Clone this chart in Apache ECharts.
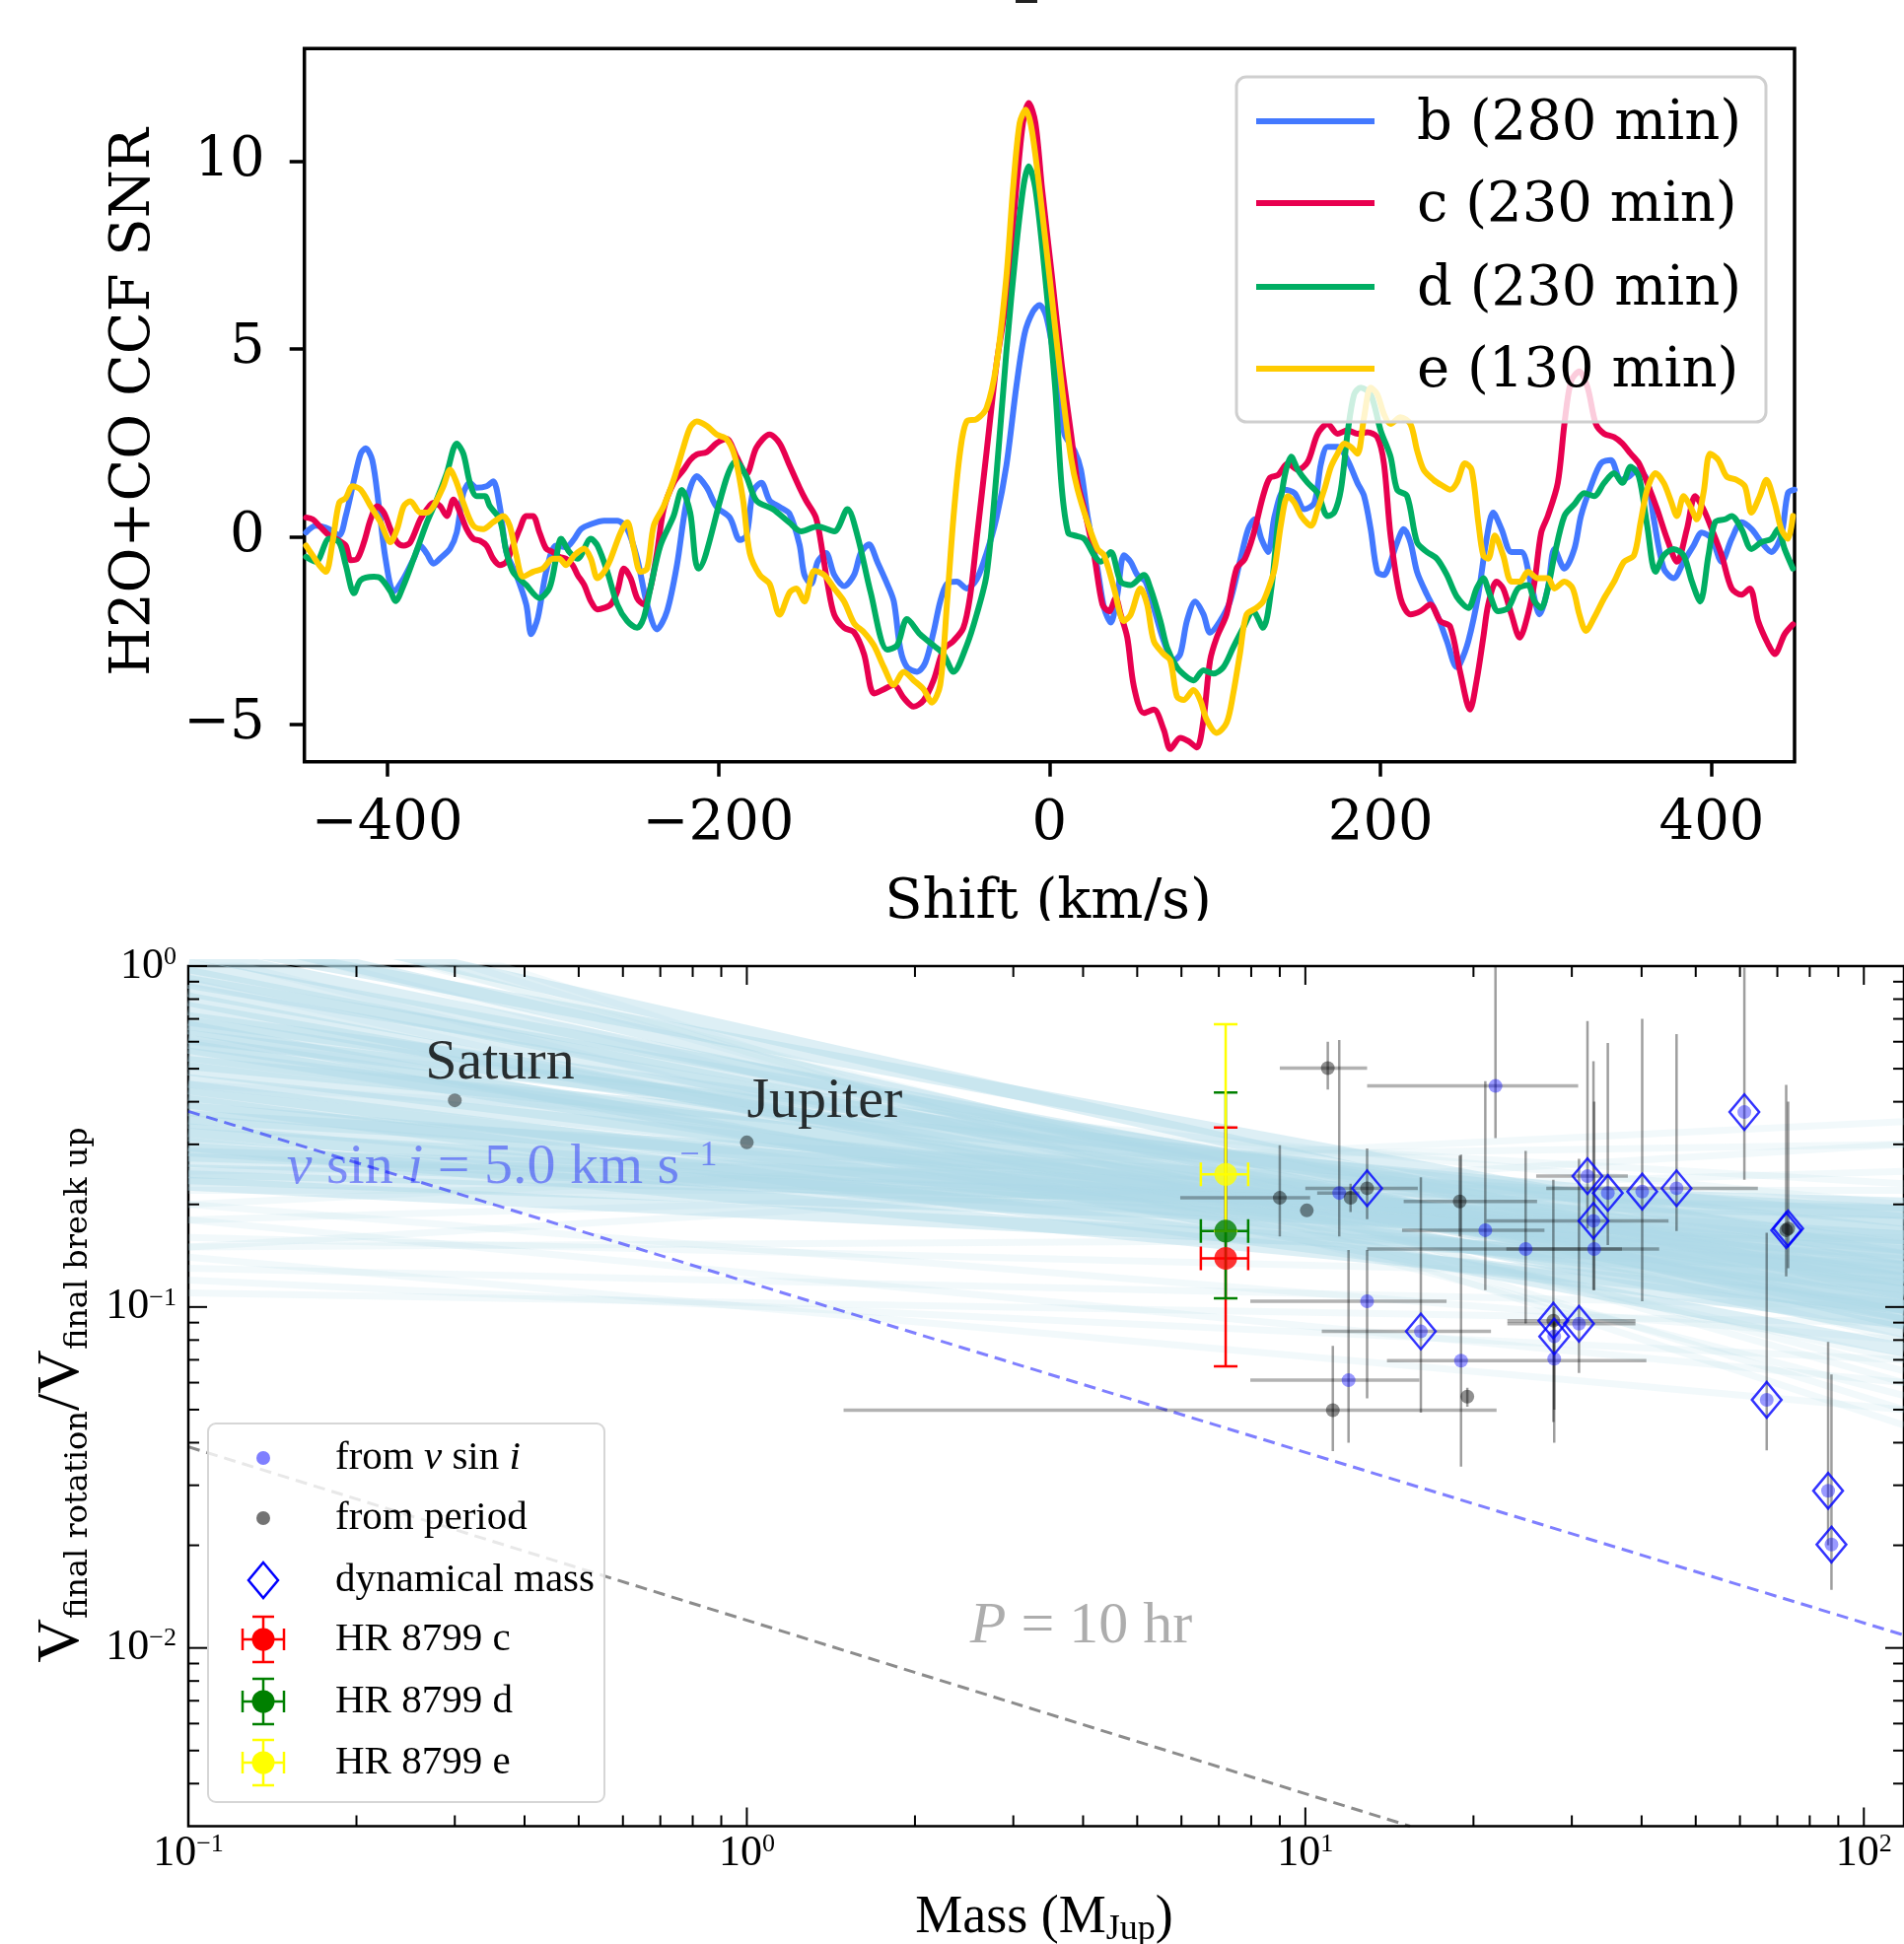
<!DOCTYPE html>
<html>
<head>
<meta charset="utf-8">
<script src="https://cdn.jsdelivr.net/npm/echarts@6/dist/echarts.min.js"></script>
<style>
html, body { margin: 0; padding: 0; background: #fff; }
#chart { width: 1931px; height: 1972px; }
</style>
</head>
<body>
<div id="chart"></div>
<script>
// ---------------- Upper panel: H2O+CO cross-correlation SNR vs. velocity shift ----------------
const ccfLabels = ['b (280 min)', 'c (230 min)', 'd (230 min)', 'e (130 min)'];
const shiftTicks = [-400, -200, 0, 200, 400];
const snrTicks = [-5, 0, 5, 10];

const ccfB = [[-449,0.11],[-443,0.29],[-435,0.2],[-429,0.03],[-425,0.55],[-420,1.51],[-416,2.21],[-413,2.35],[-409,2.04],[-405,0.81],[-401,-0.59],[-396,-1.46],[-390,-1.11],[-384,-0.59],[-380,-0.24],[-376,-0.46],[-372,-0.72],[-367,-0.54],[-362,-0.32],[-358,0.11],[-354,1.16],[-350,1.43],[-346,1.3],[-340,1.34],[-336,1.47],[-332,0.81],[-328,-0.41],[-322,-1.02],[-316,-1.81],[-313,-2.6],[-309,-2.16],[-304,-0.94],[-298,-0.24],[-292,-0.28],[-287,-0.06],[-283,0.2],[-277,0.33],[-269,0.42],[-261,0.42],[-255,0.2],[-249,-0.59],[-243,-1.81],[-237,-2.47],[-231,-1.99],[-225,-0.76],[-219,0.96],[-213,1.61],[-207,1.31],[-201,0.79],[-193,0.5],[-187,-0.09],[-183,0.03],[-179,1.2],[-174,1.43],[-169,0.96],[-163,0.79],[-157,0.61],[-151,-0.21],[-148,-1.02],[-144,-1.26],[-140,-0.67],[-135,-0.44],[-130,-1.02],[-124,-1.32],[-118,-1.02],[-114,-0.44],[-109,-0.21],[-104,-0.67],[-98,-1.26],[-94,-1.73],[-90,-3.01],[-86,-3.48],[-80,-3.6],[-75,-3.36],[-70,-2.54],[-66,-1.73],[-62,-1.26],[-56,-1.2],[-50,-1.38],[-44,-1.14],[-38,-0.44],[-32,0.5],[-26,1.9],[-20,4.0],[-15,5.41],[-10,5.99],[-6,6.17],[-2,5.88],[3,4.71],[9,2.74],[15,2.3],[19,1.78],[23,0.55],[29,-0.85],[33,-1.9],[37,-2.29],[41,-1.55],[45,-0.5],[49,-0.67],[53,-1.02],[58,-1.2],[63,-1.9],[69,-2.78],[75,-3.3],[79,-3.13],[83,-2.25],[88,-1.73],[93,-2.07],[97,-2.56],[103,-2.25],[109,-1.73],[115,-0.67],[120,0.2],[124,0.46],[128,-0.06],[132,-0.41],[136,0.55],[142,1.25],[148,1.16],[154,0.73],[160,0.9],[164,1.95],[168,2.39],[174,2.39],[180,2.04],[186,1.43],[190,1.08],[194,0.2],[198,-0.94],[202,-1.02],[206,-0.67],[210,-0.15],[214,0.2],[218,-0.15],[222,-0.94],[228,-1.55],[234,-2.07],[240,-2.78],[246,-3.48],[248,-3.39],[253,-2.78],[259,-1.55],[264,-0.06],[268,0.64],[273,0.2],[279,-0.41],[285,-0.41],[291,-1.29],[296,-2.07],[301,-1.38],[305,-0.33],[311,-0.85],[317,-0.33],[321,0.55],[327,1.34],[333,1.95],[339,2.04],[345,1.51],[350,1.6],[355,1.78],[361,1.51],[365,0.46],[371,-0.85],[377,-1.11],[383,-0.67],[389,-0.24],[394,0.11],[400,-0.06],[406,-0.67],[412,-0.06],[418,0.38],[424,0.2],[430,-0.15],[436,-0.41],[442,0.03],[446,1.16],[450,1.25]];

const ccfC = [[-449,0.51],[-445,0.46],[-441,0.29],[-435,0.03],[-429,-0.11],[-425,-0.24],[-422,-0.63],[-418,-0.59],[-414,-0.15],[-410,0.46],[-406,0.81],[-402,0.64],[-398,0.2],[-394,-0.15],[-390,-0.24],[-386,-0.15],[-380,0.46],[-376,0.73],[-372,0.9],[-368,0.81],[-364,0.55],[-360,0.99],[-356,0.64],[-352,0.2],[-348,-0.06],[-344,-0.11],[-340,-0.24],[-336,-0.59],[-332,-0.76],[-328,-0.67],[-324,-0.24],[-320,0.2],[-316,0.55],[-312,0.55],[-308,0.11],[-304,-0.32],[-300,-0.41],[-296,-0.54],[-292,-0.59],[-288,-0.76],[-285,-1.02],[-281,-1.29],[-277,-1.72],[-273,-1.94],[-269,-1.9],[-265,-1.81],[-261,-1.46],[-257,-0.85],[-253,-1.11],[-249,-1.64],[-245,-1.81],[-241,-1.37],[-237,-0.41],[-233,0.73],[-227,1.43],[-221,1.78],[-217,2.04],[-213,2.19],[-207,2.25],[-201,2.49],[-195,2.6],[-189,2.13],[-183,1.67],[-177,2.37],[-169,2.72],[-163,2.49],[-157,1.9],[-151,1.31],[-147,0.96],[-141,0.5],[-137,-0.44],[-134,-1.26],[-130,-2.08],[-124,-2.43],[-118,-2.55],[-112,-3.13],[-106,-4.18],[-100,-4.07],[-94,-3.95],[-88,-4.3],[-82,-4.53],[-76,-4.36],[-70,-3.83],[-64,-3.01],[-58,-2.78],[-52,-2.43],[-48,-1.61],[-44,-0.09],[-38,2.25],[-32,4.59],[-26,6.34],[-20,9.27],[-16,11.02],[-12.5,11.55],[-8.5,11.02],[-4.5,9.27],[1.5,6.93],[7.4,4.59],[13,2.74],[17,1.43],[21,0.73],[27,-0.5],[32,-1.81],[36,-1.99],[40,-1.64],[43,-2.07],[47,-2.69],[51,-4.0],[57,-4.7],[63,-4.61],[69,-5.14],[73,-5.66],[79,-5.36],[84,-5.45],[89,-5.62],[93,-4.88],[97,-3.3],[101,-2.69],[107,-2.07],[113,-0.85],[118,-0.59],[123,0.03],[129,1.08],[133,1.56],[138,1.64],[144,1.95],[150,1.78],[156,1.99],[162,2.74],[168,3.0],[174,2.74],[180,2.83],[186,2.74],[192,2.78],[198,2.65],[202,1.95],[206,0.03],[212,-1.64],[218,-2.07],[224,-1.99],[230,-1.81],[236,-2.25],[242,-2.4],[248,-3.6],[254,-4.61],[258,-3.83],[262,-2.69],[265,-1.81],[270,-1.2],[274,-1.38],[279,-2.07],[284,-2.69],[289,-2.07],[293,-1.2],[297,0.11],[301,0.55],[307,1.43],[311,3.0],[315,4.14],[320,4.4],[325,3.97],[330,3.0],[335,2.74],[341,2.65],[346,2.48],[351,2.21],[356,1.95],[361,1.43],[367,0.73],[373,-0.06],[379,-0.67],[385,0.2],[390,1.08],[395,0.73],[400,0.2],[406,-0.5],[412,-1.38],[418,-1.55],[423,-1.38],[428,-2.25],[434,-2.86],[438,-3.13],[444,-2.6],[449,-2.34]];

const ccfD = [[-449,-0.54],[-443,-0.67],[-435,-0.06],[-429,-0.15],[-425,-0.76],[-420,-1.51],[-416,-1.16],[-408,-1.07],[-404,-1.11],[-398,-1.46],[-395,-1.72],[-390,-1.29],[-384,-0.59],[-376,0.38],[-370,0.99],[-364,1.69],[-358,2.48],[-354,2.21],[-350,1.43],[-346,1.08],[-341,1.08],[-338,0.81],[-332,0.46],[-328,-0.41],[-324,-0.94],[-316,-1.29],[-308,-1.64],[-302,-1.37],[-298,-0.59],[-295,-0.06],[-290,-0.41],[-285,-0.59],[-277,-0.06],[-273,-0.24],[-267,-0.94],[-261,-1.81],[-255,-2.25],[-249,-2.43],[-245,-2.16],[-241,-1.37],[-235,-0.24],[-227,0.55],[-222,1.24],[-217,0.64],[-212,-0.85],[-189,2.02],[-183,1.6],[-177,0.96],[-167,0.73],[-157,0.37],[-150,0.14],[-140,0.27],[-130,0.14],[-122,0.73],[-116,0.03],[-108,-1.49],[-98,-3.01],[-92,-2.9],[-86,-2.2],[-78,-2.61],[-70,-2.9],[-64,-3.13],[-58,-3.6],[-50,-2.9],[-44,-2.08],[-38,-1.02],[-32,1.66],[-26,4.94],[-20,7.75],[-15.5,9.39],[-12.5,9.86],[-8.5,9.27],[-2.6,6.93],[3.4,4.0],[7.4,1.31],[11.3,0.1],[15,0.03],[21,-0.06],[27,-0.5],[31,-0.67],[37,-0.41],[43,-1.2],[49,-1.29],[57,-1.02],[61,-1.38],[67,-2.25],[71,-2.95],[77,-3.48],[83,-3.74],[87,-3.83],[93,-3.56],[99,-3.65],[105,-3.48],[111,-2.95],[117,-2.43],[123,-1.99],[129,-2.43],[134,-1.38],[138,0.38],[142,1.6],[146,2.13],[150,1.78],[156,1.43],[162,1.16],[168,0.55],[172,0.64],[176,1.25],[180,2.74],[184,3.79],[188,3.97],[194,3.79],[200,2.83],[206,2.13],[210,1.25],[216,1.08],[222,-0.15],[228,-0.41],[234,-0.59],[240,-1.02],[246,-1.6],[253,-1.9],[258,-1.38],[262,-1.11],[266,-1.55],[271,-1.99],[277,-1.9],[283,-1.38],[289,-1.29],[293,-1.73],[297,-1.9],[301,-1.38],[305,-0.5],[311,0.55],[317,0.86],[323,1.16],[329,1.08],[335,1.43],[341,1.69],[346,1.43],[351,1.86],[356,1.6],[361,0.29],[366,-0.94],[371,-0.5],[377,-0.33],[383,-0.5],[388,-1.2],[393,-1.73],[398,-0.5],[402,0.38],[408,0.46],[412,0.55],[418,0.2],[424,-0.33],[430,-0.15],[436,-0.06],[440,0.2],[444,-0.33],[449,-0.85]];

const ccfE = [[-449,-0.24],[-445,-0.5],[-441,-0.76],[-437,-0.94],[-433,-0.15],[-429,0.9],[-425,1.03],[-421,1.34],[-416,1.25],[-410,0.81],[-404,0.38],[-398,-0.15],[-394,0.2],[-390,0.81],[-386,0.94],[-380,0.64],[-376,0.64],[-372,0.81],[-366,1.34],[-362,1.78],[-358,1.43],[-354,0.9],[-348,0.29],[-342,0.2],[-336,0.38],[-330,0.55],[-326,0.29],[-322,-0.5],[-318,-1.07],[-312,-0.94],[-306,-0.85],[-300,-0.59],[-296,-0.59],[-292,-0.76],[-287,-0.5],[-281,-0.32],[-277,-0.59],[-273,-1.11],[-269,-0.94],[-265,-0.59],[-259,0.11],[-255,0.38],[-251,-0.32],[-247,-0.94],[-243,-0.85],[-239,0.29],[-233,0.81],[-227,1.51],[-221,2.39],[-217,2.91],[-213,3.07],[-207,2.95],[-201,2.72],[-195,2.6],[-190,2.13],[-185,0.96],[-181,-0.44],[-175,-1.02],[-169,-1.26],[-163,-2.08],[-157,-1.49],[-153,-1.38],[-148,-1.73],[-142,-0.91],[-136,-1.02],[-130,-1.38],[-124,-1.73],[-118,-2.31],[-112,-2.55],[-106,-2.9],[-100,-3.48],[-94,-3.95],[-88,-3.6],[-82,-3.83],[-76,-4.07],[-71,-4.42],[-66,-3.95],[-62,-1.84],[-58,0.5],[-54,2.25],[-50,3.07],[-44,3.13],[-38,3.42],[-32,4.59],[-26,6.93],[-22,9.27],[-18,11.02],[-14.4,11.37],[-10.5,10.79],[-4.5,8.68],[1.5,6.34],[7.4,4.01],[13,2.1],[17,1.25],[23,0.38],[29,-0.33],[33,-0.5],[39,-1.38],[45,-2.25],[49,-2.08],[55,-1.38],[59,-1.81],[63,-2.78],[69,-3.13],[73,-3.3],[77,-4.26],[81,-4.35],[87,-4.09],[91,-4.35],[95,-4.88],[101,-5.23],[107,-4.96],[111,-4.18],[115,-3.13],[119,-2.08],[125,-1.9],[129,-1.73],[133,-1.29],[136,-0.85],[140,0.38],[144,1.08],[148,0.9],[152,0.55],[158,0.29],[162,0.73],[166,1.25],[170,1.86],[174,2.21],[178,2.48],[182,2.39],[186,2.21],[190,3.18],[194,3.97],[198,3.79],[202,3.26],[206,3.0],[212,3.18],[218,3.0],[222,2.3],[226,1.78],[232,1.51],[238,1.34],[242,1.25],[246,1.43],[251,1.95],[255,1.78],[259,0.38],[262,-0.5],[265,-0.59],[269,0.03],[274,-0.5],[279,-1.2],[284,-1.2],[289,-0.94],[295,-1.11],[301,-1.11],[305,-1.38],[311,-1.2],[316,-1.38],[320,-2.07],[324,-2.51],[329,-2.16],[335,-1.64],[341,-1.2],[347,-0.67],[353,-0.5],[357,0.38],[361,1.25],[366,1.69],[371,1.43],[375,0.99],[379,0.55],[383,1.08],[387,0.81],[391,0.46],[395,1.16],[399,2.21],[404,2.04],[409,1.6],[415,1.51],[420,1.34],[424,0.64],[429,1.08],[433,1.51],[438,0.9],[442,0.2],[446,-0.06],[449,0.55]];

// ---------------- Lower panel: rotation fraction vs. mass ----------------
const massTicks = [0.1, 1, 10, 100];
const massMinorTicks = [0.2,0.3,0.4,0.5,0.6,0.7,0.8,0.9,2,3,4,5,6,7,8,9,20,30,40,50,60,70,80,90];
const ratioTicks = [0.01, 0.1, 1];
const ratioMinorTicks = [0.004,0.005,0.006,0.007,0.008,0.009,0.02,0.03,0.04,0.05,0.06,0.07,0.08,0.09,0.2,0.3,0.4,0.5,0.6,0.7,0.8,0.9];

// posterior draws of the power-law relation: value at M = 0.1 and at M = 118
const fanMass = [0.1, 118];
const fanCoreLeft  = [1.30,1.10,0.95,0.85,0.75,0.68,0.60,0.55,0.50,0.46,0.42,0.38,0.35,0.32,0.29,0.27,0.25,0.24,0.90,0.70,1.00,0.62,0.80,0.58,0.44,0.33,1.20,0.52,0.28,0.40,0.30,0.66,1.50,0.23,0.36];
const fanCoreRight = [0.090,0.100,0.095,0.110,0.100,0.120,0.110,0.130,0.120,0.140,0.125,0.150,0.135,0.160,0.145,0.175,0.190,0.160,0.130,0.150,0.120,0.165,0.085,0.095,0.105,0.115,0.140,0.180,0.200,0.090,0.100,0.075,0.110,0.130,0.190];
const fanOuterLeft  = [0.16,0.20,0.18,0.13,0.22,0.15,0.12,0.15,0.20,0.18,0.25,1.80,1.60,2.00,1.30,1.10,0.90,1.50,0.60,0.45,0.14,0.11];
const fanOuterRight = [0.12,0.08,0.06,0.10,0.22,0.16,0.07,0.30,0.35,0.25,0.30,0.050,0.060,0.045,0.065,0.055,0.070,0.080,0.20,0.23,0.05,0.09];

// reference curves: v sin i = 5 km/s and P = 10 hr
const vsiniLine = [[0.1, 0.375], [118, 0.0109]];
const periodLine = [[0.1, 0.0389], [15.4, 0.003]];

// [mass, ratio, massLow, massHigh, ratioLow, ratioHigh]
const vsiniPoints = [
  [21.9,0.445,12.9,30.8,0.313,1.0],[11.5,0.216,10.5,12.5,0.161,0.607],[21.0,0.168,14.9,26.8,0.112,0.46],
  [24.8,0.148,12.9,43.0,0.0895,0.287],[32.9,0.148,22.9,36.9,0.112,0.40],[12.9,0.104,7.97,17.9,0.054,0.147],
  [11.95,0.061,7.97,16.0,0.040,0.147],[19.0,0.0696,14.0,40.8,0.034,0.28],[27.9,0.0705,27.9,27.9,0.040,0.09],
  [32.0,0.242,25.9,37.8,0.17,0.69],[34.8,0.216,34.8,34.8,0.152,0.595],[40.1,0.218,40.1,40.1,0.104,0.70],
  [46.2,0.223,27.0,64.6,0.167,0.632],[32.8,0.179,21.1,44.7,0.112,0.526],[61.1,0.373,61.1,61.1,0.236,0.99],
  [27.9,0.082,27.9,27.9,0.05,0.10],[30.9,0.0893,23.0,39.0,0.064,0.272],[16.1,0.0848,10.7,21.5,0.049,0.24],
  [67.0,0.0534,67.0,67.0,0.038,0.165],[86.3,0.0289,86.3,86.3,0.02,0.079],[87.5,0.0201,87.5,87.5,0.0148,0.0634]
];
const periodPoints = [
  [10.97,0.502,9.0,12.9,0.434,0.60],[9.0,0.209,5.97,10.2,0.161,0.298],[10.06,0.192,10.06,10.06,0.192,0.192],
  [12.05,0.209,12.05,12.05,0.19,0.23],[12.9,0.223,10.0,15.9,0.181,0.292],[18.9,0.204,15.0,26.0,0.161,0.278],
  [19.5,0.0546,19.5,19.5,0.051,0.058],[11.2,0.0498,1.49,22.0,0.0378,0.0769],[27.8,0.0912,23.0,39.0,0.046,0.236],
  [72.6,0.168,72.6,72.6,0.123,0.448],[73.2,0.170,73.2,73.2,0.13,0.40]
];
const dynamicalMass = [[12.9,0.223],[32.0,0.242],[34.8,0.216],[40.1,0.218],[46.2,0.223],[32.8,0.179],[61.1,0.373],
  [72.6,0.168],[73.2,0.170],[27.8,0.0912],[27.9,0.082],[30.9,0.0893],[16.1,0.0848],[67.0,0.0534],[86.3,0.0289],[87.5,0.0201]];
const solarNames = ['Saturn', 'Jupiter'];
const solarPoints = [[0.3, 0.404], [1.0, 0.304]];
const hrNames = ['HR 8799 c', 'HR 8799 d', 'HR 8799 e'];
const hrPoints = [[7.2,0.139,6.5,7.9,0.067,0.336],[7.2,0.167,6.5,7.9,0.106,0.426],[7.2,0.245,6.5,7.9,0.167,0.675]];

// ---------------- styling ----------------
const ccfColors = ['#4379ff', '#e8004f', '#00ae63', '#ffcb00'];
const hrColors = ['#ff0000', '#008000', '#ffff00'];
const TOP_FONT = 'DejaVu Serif';
const LOW_FONT = 'Liberation Serif';

function minusSign(v) { return String(v).replace('-', '\u2212'); }
function powLabel(v) {
  const e = Math.round(Math.log10(v));
  return '{b|10}{s|' + (e < 0 ? '\u2212' + (-e) : e) + '}';
}
const powRich = {
  b: { fontSize: 44, fontFamily: LOW_FONT, lineHeight: 44, color: '#000' },
  s: { fontSize: 26, fontFamily: LOW_FONT, lineHeight: 22, verticalAlign: 'top', color: '#000' }
};

const chart = echarts.init(document.getElementById('chart'), null, { renderer: 'canvas', width: 1931, height: 1972 });

const series = [];

// upper panel curves
[ccfB, ccfC, ccfD, ccfE].forEach((d, i) => {
  series.push({
    type: 'line', name: ccfLabels[i], xAxisIndex: 0, yAxisIndex: 0, data: d,
    symbol: 'none', smooth: 0.3, silent: true, z: 2 + i,
    lineStyle: { color: ccfColors[i], width: 6, join: 'round', cap: 'round' }
  });
});

// fan of posterior relations
fanOuterLeft.forEach((l, i) => {
  series.push({
    type: 'line', xAxisIndex: 1, yAxisIndex: 1, symbol: 'none', silent: true, clip: true, z: 1,
    data: [[fanMass[0], l], [fanMass[1], fanOuterRight[i]]],
    lineStyle: { color: '#add8e6', width: 7, opacity: 0.16 }
  });
});
fanCoreLeft.forEach((l, i) => {
  series.push({
    type: 'line', xAxisIndex: 1, yAxisIndex: 1, symbol: 'none', silent: true, clip: true, z: 1,
    data: [[fanMass[0], l], [fanMass[1], fanCoreRight[i]]],
    lineStyle: { color: '#add8e6', width: 14, opacity: 0.42 }
  });
});

// dashed reference relations
series.push({
  type: 'line', xAxisIndex: 1, yAxisIndex: 1, symbol: 'none', silent: true, clip: true, z: 2,
  data: vsiniLine, lineStyle: { color: 'rgba(0,0,255,0.5)', width: 3, type: [12, 7] }
});
series.push({
  type: 'line', xAxisIndex: 1, yAxisIndex: 1, symbol: 'none', silent: true, clip: true, z: 2,
  data: periodLine, lineStyle: { color: 'rgba(0,0,0,0.45)', width: 3, type: [12, 7] }
});

// grey error bars of the field objects
function renderErrorBar(params, api) {
  const c = api.coord([api.value(0), api.value(1)]);
  const xl = api.coord([api.value(2), api.value(1)])[0];
  const xh = api.coord([api.value(3), api.value(1)])[0];
  const yl = api.coord([api.value(0), api.value(4)])[1];
  const yh = api.coord([api.value(0), api.value(5)])[1];
  return {
    type: 'group',
    children: [
      { type: 'line', shape: { x1: c[0], y1: yl, x2: c[0], y2: yh }, style: { stroke: 'rgba(0,0,0,0.38)', lineWidth: 2.5 } },
      { type: 'line', shape: { x1: xl, y1: c[1], x2: xh, y2: c[1] }, style: { stroke: 'rgba(0,0,0,0.3)', lineWidth: 3.5 } }
    ]
  };
}
series.push({
  type: 'custom', xAxisIndex: 1, yAxisIndex: 1, silent: true, clip: true, z: 3,
  encode: { x: 0, y: 1 },
  data: periodPoints.concat(vsiniPoints),
  renderItem: renderErrorBar
});

// point markers
series.push({
  type: 'scatter', xAxisIndex: 1, yAxisIndex: 1, silent: true, z: 4,
  symbol: 'circle', symbolSize: 14,
  data: vsiniPoints.map(p => [p[0], p[1]]),
  itemStyle: { color: 'rgba(0,0,255,0.5)' }
});
series.push({
  type: 'scatter', xAxisIndex: 1, yAxisIndex: 1, silent: true, z: 4,
  symbol: 'circle', symbolSize: 14,
  data: periodPoints.map(p => [p[0], p[1]]),
  itemStyle: { color: 'rgba(0,0,0,0.55)' }
});
series.push({
  type: 'scatter', xAxisIndex: 1, yAxisIndex: 1, silent: true, z: 5,
  symbol: 'path://M0,-18L15,0L0,18L-15,0Z', symbolSize: [30, 36],
  data: dynamicalMass,
  itemStyle: { color: 'rgba(0,0,0,0)', borderColor: '#0000ff', borderWidth: 2.5 }
});

// Saturn and Jupiter
series.push({
  type: 'scatter', xAxisIndex: 1, yAxisIndex: 1, silent: true, z: 4,
  symbol: 'circle', symbolSize: 14,
  data: solarPoints.map((p, i) => ({
    value: p, name: solarNames[i],
    label: { offset: i === 0 ? [-30, -37] : [0, -41] }
  })),
  itemStyle: { color: 'rgba(0,0,0,0.55)' },
  label: {
    show: true, position: 'inside', align: 'left', verticalAlign: 'middle',
    formatter: p => p.name, fontFamily: LOW_FONT, fontSize: 58, color: '#000'
  }
});

// HR 8799 planets: error bars with caps, then markers
series.push({
  type: 'custom', xAxisIndex: 1, yAxisIndex: 1, silent: true, clip: true, z: 6,
  encode: { x: 0, y: 1 },
  data: hrPoints,
  renderItem: function (params, api) {
    const col = hrColors[params.dataIndex];
    const c = api.coord([api.value(0), api.value(1)]);
    const xl = api.coord([api.value(2), api.value(1)])[0];
    const xh = api.coord([api.value(3), api.value(1)])[0];
    const yl = api.coord([api.value(0), api.value(4)])[1];
    const yh = api.coord([api.value(0), api.value(5)])[1];
    const st = { stroke: col, lineWidth: 2.5 };
    const cap = 12;
    return {
      type: 'group',
      children: [
        { type: 'line', shape: { x1: c[0], y1: yl, x2: c[0], y2: yh }, style: st },
        { type: 'line', shape: { x1: xl, y1: c[1], x2: xh, y2: c[1] }, style: st },
        { type: 'line', shape: { x1: c[0] - cap, y1: yl, x2: c[0] + cap, y2: yl }, style: st },
        { type: 'line', shape: { x1: c[0] - cap, y1: yh, x2: c[0] + cap, y2: yh }, style: st },
        { type: 'line', shape: { x1: xl, y1: c[1] - cap, x2: xl, y2: c[1] + cap }, style: st },
        { type: 'line', shape: { x1: xh, y1: c[1] - cap, x2: xh, y2: c[1] + cap }, style: st }
      ]
    };
  }
});
series.push({
  type: 'scatter', xAxisIndex: 1, yAxisIndex: 1, silent: true, z: 7,
  symbol: 'circle', symbolSize: 23,
  data: hrPoints.map((p, i) => ({ value: [p[0], p[1]], itemStyle: { color: hrColors[i] } }))
});

// annotations placed in data coordinates
series.push({
  type: 'scatter', xAxisIndex: 1, yAxisIndex: 1, silent: true, z: 8, symbolSize: 1,
  itemStyle: { color: 'rgba(0,0,0,0)' },
  data: [[0.150, 0.255]],
  label: {
    show: true, position: 'inside', align: 'left', verticalAlign: 'middle',
    formatter: '{i|v}{r| sin }{i|i}{r| = 5.0 km s}{s|\u22121}',
    rich: {
      i: { fontFamily: LOW_FONT, fontSize: 58, fontStyle: 'italic', lineHeight: 62, color: 'rgba(0,0,255,0.5)' },
      r: { fontFamily: LOW_FONT, fontSize: 58, lineHeight: 62, color: 'rgba(0,0,255,0.5)' },
      s: { fontFamily: LOW_FONT, fontSize: 36, lineHeight: 36, verticalAlign: 'top', color: 'rgba(0,0,255,0.5)' }
    }
  }
});
series.push({
  type: 'scatter', xAxisIndex: 1, yAxisIndex: 1, silent: true, z: 8, symbolSize: 1,
  itemStyle: { color: 'rgba(0,0,0,0)' },
  data: [[2.51, 0.0115]],
  label: {
    show: true, position: 'inside', align: 'left', verticalAlign: 'middle',
    formatter: '{i|P}{r| = 10 hr}',
    rich: {
      i: { fontFamily: LOW_FONT, fontSize: 60, fontStyle: 'italic', color: 'rgba(0,0,0,0.4)' },
      r: { fontFamily: LOW_FONT, fontSize: 60, color: 'rgba(0,0,0,0.4)' }
    }
  }
});

// inward ticks on all four sides of the lower panel
const tickItems = [];
massTicks.forEach(v => tickItems.push([v, 0.1, 0]));
massMinorTicks.forEach(v => tickItems.push([v, 0.1, 1]));
ratioTicks.forEach(v => tickItems.push([1, v, 2]));
ratioMinorTicks.forEach(v => tickItems.push([1, v, 3]));
series.push({
  type: 'custom', xAxisIndex: 1, yAxisIndex: 1, silent: true, clip: false, z: 9,
  encode: { x: 0, y: 1 },
  data: tickItems,
  renderItem: function (params, api) {
    const kind = api.value(2);
    const cs = params.coordSys;
    const len = (kind === 0 || kind === 2) ? 19 : 11;
    const st = { stroke: '#000', lineWidth: 2 };
    if (kind < 2) {
      const px = api.coord([api.value(0), 0.1])[0];
      return { type: 'group', children: [
        { type: 'line', shape: { x1: px, y1: cs.y, x2: px, y2: cs.y + len }, style: st },
        { type: 'line', shape: { x1: px, y1: cs.y + cs.height, x2: px, y2: cs.y + cs.height - len }, style: st }
      ] };
    }
    const py = api.coord([1, api.value(1)])[1];
    return { type: 'group', children: [
      { type: 'line', shape: { x1: cs.x, y1: py, x2: cs.x + len, y2: py }, style: st },
      { type: 'line', shape: { x1: cs.x + cs.width, y1: py, x2: cs.x + cs.width - len, y2: py }, style: st }
    ] };
  }
});

// ---------------- legends and titles ----------------
const graphics = [];
// fragment of the figure title above the upper panel
graphics.push({ type: 'rect', shape: { x: 1030, y: 0, width: 22, height: 3 }, style: { fill: '#222' }, z: 100 });

// upper legend
const legTopY = [123, 206, 291, 374];
graphics.push({ type: 'rect', shape: { x: 1254, y: 78, width: 537, height: 350, r: 10 },
  style: { fill: 'rgba(255,255,255,0.8)', stroke: '#cfcfcf', lineWidth: 3 }, z: 100 });
ccfLabels.forEach((t, i) => {
  graphics.push({ type: 'line', shape: { x1: 1274, y1: legTopY[i], x2: 1394, y2: legTopY[i] },
    style: { stroke: ccfColors[i], lineWidth: 6 }, z: 101 });
  graphics.push({ type: 'text', x: 1437, y: legTopY[i] + 3,
    style: { text: t, fontFamily: TOP_FONT, fontSize: 56, fill: '#000', align: 'left', verticalAlign: 'middle' }, z: 101 });
});

// upper axis titles
graphics.push({ type: 'text', x: 1063, y: 916,
  style: { text: 'Shift (km/s)', fontFamily: TOP_FONT, fontSize: 56, fill: '#000', align: 'center', verticalAlign: 'middle' }, z: 100 });
graphics.push({ type: 'rect', shape: { x: 850, y: 934, width: 430, height: 40 }, style: { fill: '#fff' }, z: 102 });
graphics.push({ type: 'text', x: 136, y: 408, rotation: Math.PI / 2,
  style: { text: 'H2O+CO CCF SNR', fontFamily: TOP_FONT, fontSize: 56, fill: '#000', align: 'center', verticalAlign: 'middle' }, z: 100 });

// lower axis titles
graphics.push({ type: 'text', x: 1059, y: 1946,
  style: {
    text: '{r|Mass (M}{s|Jup}{r|)}', align: 'center', verticalAlign: 'middle',
    rich: {
      r: { fontFamily: LOW_FONT, fontSize: 54, lineHeight: 60, color: '#000' },
      s: { fontFamily: LOW_FONT, fontSize: 36, lineHeight: 44, verticalAlign: 'bottom', color: '#000' }
    }
  }, z: 100 });
graphics.push({ type: 'text', x: 63, y: 1415, rotation: Math.PI / 2,
  style: {
    text: '{v|V}{s|final rotation}{v|/V}{s|final break up}', align: 'center', verticalAlign: 'middle',
    rich: {
      v: { fontFamily: LOW_FONT, fontSize: 62, lineHeight: 66, color: '#000' },
      s: { fontFamily: TOP_FONT, fontSize: 32, lineHeight: 42, verticalAlign: 'bottom', color: '#000' }
    }
  }, z: 100 });

// lower legend
const legLowY = [1479, 1540, 1603, 1663, 1726, 1788];
const legX = 267, legTextX = 340;
graphics.push({ type: 'rect', shape: { x: 211, y: 1444, width: 402, height: 384, r: 8 },
  style: { fill: 'rgba(255,255,255,0.8)', stroke: '#d6d6d6', lineWidth: 2 }, z: 100 });
graphics.push({ type: 'circle', shape: { cx: legX, cy: legLowY[0], r: 7 }, style: { fill: 'rgba(0,0,255,0.5)' }, z: 101 });
graphics.push({ type: 'circle', shape: { cx: legX, cy: legLowY[1], r: 7 }, style: { fill: 'rgba(0,0,0,0.55)' }, z: 101 });
graphics.push({ type: 'polygon', shape: { points: [[legX, legLowY[2] - 18], [legX + 15, legLowY[2]], [legX, legLowY[2] + 18], [legX - 15, legLowY[2]]] },
  style: { fill: 'none', stroke: '#0000ff', lineWidth: 2.5 }, z: 101 });
hrColors.forEach((col, i) => {
  const cy = legLowY[3 + i];
  const st = { stroke: col, lineWidth: 2.5 };
  graphics.push({ type: 'line', shape: { x1: legX - 21, y1: cy, x2: legX + 21, y2: cy }, style: st, z: 101 });
  graphics.push({ type: 'line', shape: { x1: legX, y1: cy - 23, x2: legX, y2: cy + 23 }, style: st, z: 101 });
  graphics.push({ type: 'line', shape: { x1: legX - 11, y1: cy - 23, x2: legX + 11, y2: cy - 23 }, style: st, z: 101 });
  graphics.push({ type: 'line', shape: { x1: legX - 11, y1: cy + 23, x2: legX + 11, y2: cy + 23 }, style: st, z: 101 });
  graphics.push({ type: 'line', shape: { x1: legX - 21, y1: cy - 11, x2: legX - 21, y2: cy + 11 }, style: st, z: 101 });
  graphics.push({ type: 'line', shape: { x1: legX + 21, y1: cy - 11, x2: legX + 21, y2: cy + 11 }, style: st, z: 101 });
  graphics.push({ type: 'circle', shape: { cx: legX, cy: cy, r: 11.5 }, style: { fill: col }, z: 102 });
});
const legRich = {
  r: { fontFamily: LOW_FONT, fontSize: 41, color: '#000' },
  i: { fontFamily: LOW_FONT, fontSize: 41, fontStyle: 'italic', color: '#000' }
};
const lowLegendTexts = ['{r|from }{i|v}{r| sin }{i|i}', '{r|from period}', '{r|dynamical mass}']
  .concat(hrNames.map(n => '{r|' + n + '}'));
lowLegendTexts.forEach((t, i) => {
  graphics.push({ type: 'text', x: legTextX, y: legLowY[i],
    style: { text: t, rich: legRich, align: 'left', verticalAlign: 'middle' }, z: 101 });
});

chart.setOption({
  animation: false,
  backgroundColor: '#fff',
  grid: [
    { left: 308.7, top: 49.3, width: 1511.3, height: 723.5, show: true, borderColor: '#000', borderWidth: 3.5, backgroundColor: 'rgba(0,0,0,0)' },
    { left: 191, top: 980, width: 1741, height: 872.5, show: true, borderColor: '#000', borderWidth: 2.5, backgroundColor: 'rgba(0,0,0,0)' }
  ],
  xAxis: [
    {
      type: 'value', gridIndex: 0, min: -450, max: 450,
      axisLine: { show: false, onZero: false }, splitLine: { show: false },
      axisTick: { show: true, customValues: shiftTicks, length: 15, lineStyle: { color: '#000', width: 3.5 } },
      axisLabel: { customValues: shiftTicks, formatter: minusSign, fontFamily: TOP_FONT, fontSize: 56, color: '#000', margin: 36 }
    },
    {
      type: 'log', logBase: 10, gridIndex: 1, min: 0.1, max: 118,
      axisLine: { show: false, onZero: false }, splitLine: { show: false }, axisTick: { show: false }, minorTick: { show: false },
      axisLabel: { customValues: massTicks, formatter: powLabel, rich: powRich, margin: 6 }
    }
  ],
  yAxis: [
    {
      type: 'value', gridIndex: 0, min: -6, max: 13,
      axisLine: { show: false, onZero: false }, splitLine: { show: false },
      axisTick: { show: true, customValues: snrTicks, length: 15, lineStyle: { color: '#000', width: 3.5 } },
      axisLabel: { customValues: snrTicks, formatter: minusSign, fontFamily: TOP_FONT, fontSize: 56, color: '#000', margin: 40 }
    },
    {
      type: 'log', logBase: 10, gridIndex: 1, min: 0.003, max: 1,
      axisLine: { show: false, onZero: false }, splitLine: { show: false }, axisTick: { show: false }, minorTick: { show: false },
      axisLabel: { customValues: ratioTicks, formatter: powLabel, rich: powRich, margin: 12 }
    }
  ],
  series: series,
  graphic: graphics
});
</script>
</body>
</html>
